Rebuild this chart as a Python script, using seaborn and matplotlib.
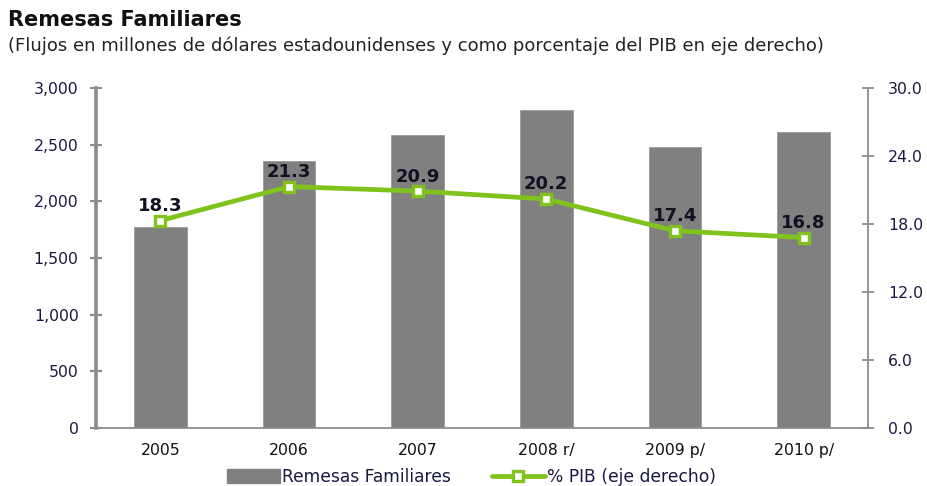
import matplotlib
matplotlib.use("Agg")
import matplotlib.pyplot as plt
import seaborn as sns
import pandas as pd
from matplotlib.patches import Patch
from matplotlib.lines import Line2D
from matplotlib.ticker import FixedLocator, FuncFormatter

categories = ["2005", "2006", "2007", "2008 r/", "2009 p/", "2010 p/"]
remesas = [1775.8, 2359.1, 2580.7, 2807.5, 2475.8, 2609.4]
pib_pct = [18.3, 21.3, 20.9, 20.2, 17.4, 16.8]
left_ticks = [0, 500, 1000, 1500, 2000, 2500, 3000]
right_ticks = [0, 6, 12, 18, 24, 30]

sns.set_style("white")
plt.rcParams["font.family"] = ["DejaVu Sans"]

bar_color = "#808080"
line_color = "#80C31C"
axis_color = "#8C8C8C"
tick_text = "#1a1a40"

df = pd.DataFrame({"cat": categories, "remesas": remesas, "pib": pib_pct})

fig = plt.figure(figsize=(9.28, 4.86), dpi=100)
ax = fig.add_axes([0.1034, 0.1193, 0.8319, 0.6997])

sns.barplot(data=df, x="cat", y="remesas", ax=ax, color=bar_color,
            width=0.41, saturation=1, edgecolor="#9a9a9a", linewidth=0.6)
ax.set_xlim(-0.5, len(categories) - 0.5)
ax.set_ylim(0, 3000)
ax.set_xlabel("")
ax.set_ylabel("")
ax.yaxis.set_major_locator(FixedLocator(left_ticks))
ax.yaxis.set_major_formatter(FuncFormatter(lambda v, p: f"{int(v):,}"))
ax.tick_params(axis="y", which="major", direction="inout", length=9, width=1.5,
               color=axis_color, labelsize=11.3, labelcolor=tick_text, pad=8)
ax.tick_params(axis="x", which="major", length=0, labelsize=11.3, labelcolor="#111111", pad=11)
ax.set_xticks([i + 0.5 for i in range(-1, len(categories))], minor=True)
ax.tick_params(axis="x", which="minor", direction="inout", length=9, width=1.2, color=axis_color)

for side in ["top", "right"]:
    ax.spines[side].set_visible(False)
ax.spines["left"].set_color(axis_color)
ax.spines["left"].set_linewidth(2.6)
ax.spines["bottom"].set_color(axis_color)
ax.spines["bottom"].set_linewidth(1.3)

ax2 = ax.twinx()
sns.pointplot(data=df, x="cat", y="pib", ax=ax2, color=line_color,
              markers="s", linewidth=3.4, markersize=7,
              markerfacecolor="white", markeredgecolor=line_color, markeredgewidth=2.4)
ax2.set_xlim(-0.5, len(categories) - 0.5)
ax2.set_ylim(0, 30)
ax2.set_ylabel("")
ax2.set_xlabel("")
ax2.yaxis.set_major_locator(FixedLocator(right_ticks))
ax2.yaxis.set_major_formatter(FuncFormatter(lambda v, p: f"{v:.1f}"))
ax2.tick_params(axis="y", which="major", direction="inout", length=9, width=1.3,
                color=axis_color, labelsize=11.3, labelcolor=tick_text, pad=10)
for side in ["top", "left", "bottom"]:
    ax2.spines[side].set_visible(False)
ax2.spines["right"].set_color(axis_color)
ax2.spines["right"].set_linewidth(1.3)

for i, v in enumerate(pib_pct):
    ax2.annotate(f"{v:.1f}", (i, v), xytext=(0, 4), textcoords="offset points",
                 ha="center", va="bottom", fontsize=13, fontweight="bold", color="#111122")

fig.text(0.009, 0.958, "Remesas Familiares", fontsize=15, fontweight="bold",
         color="#111111", ha="left", va="center")
fig.text(0.009, 0.906,
         "(Flujos en millones de dólares estadounidenses y como porcentaje del PIB en eje derecho)",
         fontsize=13, color="#222222", ha="left", va="center")

handles = [Patch(facecolor=bar_color, edgecolor=bar_color),
           Line2D([0], [0], color=line_color, lw=3.4, marker="s", markersize=7,
                  markerfacecolor="white", markeredgecolor=line_color, markeredgewidth=2.4)]
fig.legend(handles, ["Remesas Familiares", "% PIB (eje derecho)"],
           loc="center", bbox_to_anchor=(0.508, 0.018), ncol=2, frameon=False,
           fontsize=12.3, handlelength=3.1, handleheight=0.9, handletextpad=0.1,
           columnspacing=2.4, labelcolor="#1a1a40")

fig.savefig("out.png", dpi=100, facecolor="white")
